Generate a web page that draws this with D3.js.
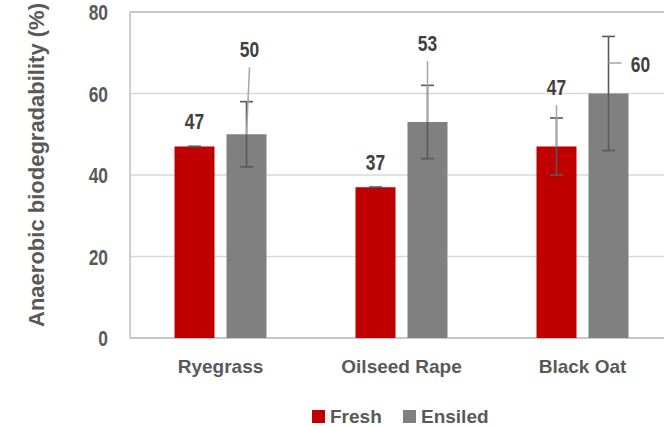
<!DOCTYPE html>
<html>
<head>
<meta charset="utf-8">
<script src="https://cdn.jsdelivr.net/npm/d3@7"></script>
<style>
  html, body { margin: 0; padding: 0; background: #fff; }
  svg { display: block; }
  .narrow { font-family: "Liberation Sans", Arial, sans-serif; font-weight: bold; }
  .wide { font-family: "Liberation Sans", Arial, sans-serif; font-weight: bold; }
</style>
</head>
<body>
<svg id="chart" width="664" height="427"></svg>
<script>
// Biodegradability of fresh vs ensiled crops
const categories = ["Ryegrass", "Oilseed Rape", "Black Oat"];
const seriesNames = ["Fresh", "Ensiled"];
const freshValues = [47, 37, 47];
const ensiledValues = [50, 53, 60];
const freshErrors = [0, 0, 7];
const ensiledErrors = [8, 9, 14];
const yTicks = [0, 20, 40, 60, 80];

// label nudges (px) away from the default spot above each bar
const labelNudge = {
  "Ryegrass|Ensiled": [3, -60],
  "Oilseed Rape|Ensiled": [0, -54],
  "Black Oat|Fresh": [0, -34.5],
  "Black Oat|Ensiled": [32, -4.5]
};

const colors = { Fresh: "#c00000", Ensiled: "#808080" };
const textColor = "#595959";
const narrowScale = 0.79; // horizontal squeeze for the condensed numerals

const svg = d3.select("#chart");
const plot = { left: 130, right: 673, top: 12, bottom: 338 };

const x0 = d3.scaleBand().domain(categories)
  .range([plot.left, plot.right]).paddingInner(0.4917).paddingOuter(0.2459);
const x1 = d3.scaleBand().domain(seriesNames)
  .range([0, x0.bandwidth()]).paddingInner(12 / 52);
const y = d3.scaleLinear().domain([0, 80]).range([plot.bottom, plot.top]);

const rows = [];
categories.forEach((c, i) => {
  rows.push({ cat: c, series: "Fresh", value: freshValues[i], err: freshErrors[i] });
  rows.push({ cat: c, series: "Ensiled", value: ensiledValues[i], err: ensiledErrors[i] });
});
const cx = d => x0(d.cat) + x1(d.series) + x1.bandwidth() / 2;

// gridlines
svg.append("g").selectAll("line").data(yTicks).join("line")
  .attr("x1", plot.left).attr("x2", plot.right)
  .attr("y1", d => y(d)).attr("y2", d => y(d))
  .attr("stroke", "#d9d9d9").attr("stroke-width", 1.5);

// plot frame
svg.append("rect")
  .attr("x", plot.left).attr("y", plot.top)
  .attr("width", plot.right - plot.left).attr("height", plot.bottom - plot.top)
  .attr("fill", "none").attr("stroke", "#bfbfbf").attr("stroke-width", 1.5);

// y axis labels
const yAxis = d3.axisLeft(y).tickValues(yTicks).tickSize(0).tickPadding(0);
const gy = svg.append("g").attr("transform", "translate(108,0)").call(yAxis);
gy.select(".domain").remove();
gy.selectAll("text").attr("class", "narrow").attr("fill", textColor)
  .style("font-size", "22px").attr("dy", "0.36em").attr("x", 0)
  .attr("transform", `scale(${narrowScale},1)`);

// x axis labels
const xAxis = d3.axisBottom(x0).tickSize(0).tickPadding(0);
const gx = svg.append("g").attr("transform", "translate(0,373)").call(xAxis);
gx.select(".domain").remove();
gx.selectAll("text").attr("class", "wide").attr("fill", textColor)
  .style("font-size", "19px").attr("dy", 0).attr("y", 0);

// bars
svg.append("g").selectAll("rect").data(rows).join("rect")
  .attr("x", d => x0(d.cat) + x1(d.series))
  .attr("width", x1.bandwidth())
  .attr("y", d => y(d.value))
  .attr("height", d => y(0) - y(d.value))
  .attr("fill", d => colors[d.series]);

// error bars
const eb = svg.append("g").attr("stroke", "#595959").attr("stroke-width", 1.6);
rows.forEach(d => {
  const x = cx(d), hi = y(d.value + d.err), lo = y(d.value - d.err), cap = 6.5;
  eb.append("line").attr("x1", x).attr("x2", x).attr("y1", hi).attr("y2", lo);
  eb.append("line").attr("x1", x - cap).attr("x2", x + cap).attr("y1", hi).attr("y2", hi);
  eb.append("line").attr("x1", x - cap).attr("x2", x + cap).attr("y1", lo).attr("y2", lo);
});

// value labels with leader lines
const labels = svg.append("g");
rows.forEach(d => {
  const key = d.cat + "|" + d.series;
  const [dx, dy] = labelNudge[key] || [0, 0];
  const bx = cx(d), by = y(d.value);
  const lx = bx + dx, ly = by - 17 + dy;
  if (labelNudge[key]) {
    if (Math.abs(dx) > 20) {
      labels.append("line").attr("x1", bx).attr("x2", lx - 19)
        .attr("y1", ly - 9).attr("y2", ly - 9)
        .attr("stroke", "#a6a6a6").attr("stroke-width", 1.5);
    } else {
      labels.append("line").attr("x1", lx).attr("x2", bx)
        .attr("y1", ly + 10).attr("y2", by)
        .attr("stroke", "#a6a6a6").attr("stroke-width", 1.5);
    }
  }
  labels.append("text").attr("class", "narrow")
    .attr("transform", `translate(${lx},${ly}) scale(${narrowScale},1)`)
    .attr("text-anchor", "middle")
    .attr("fill", "#404040").style("font-size", "22px").text(d.value);
});

// y axis title
svg.append("text").attr("class", "wide")
  .attr("transform", "translate(44,165) rotate(-90)")
  .attr("text-anchor", "middle").attr("fill", textColor)
  .style("font-size", "22px").text("Anaerobic biodegradability (%)");

// legend
const legendX = [312, 403];
const lg = svg.append("g");
seriesNames.forEach((s, i) => {
  lg.append("rect").attr("x", legendX[i]).attr("y", 410).attr("width", 13).attr("height", 13)
    .attr("fill", colors[s]);
  lg.append("text").attr("class", "wide").attr("x", legendX[i] + 18).attr("y", 423)
    .attr("fill", textColor).style("font-size", "19px").text(s);
});
</script>
</body>
</html>
